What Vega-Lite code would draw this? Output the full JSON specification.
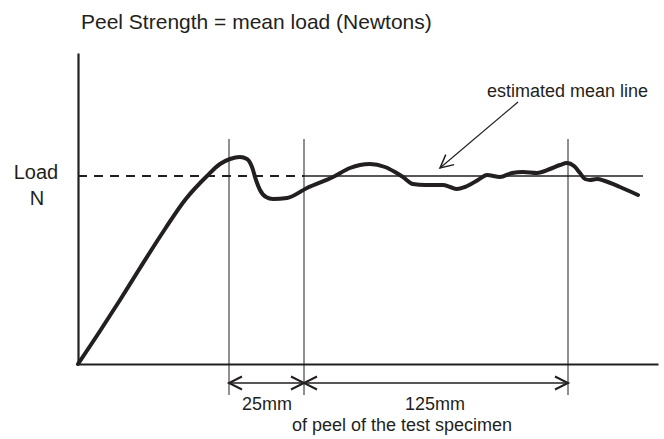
{
  "$schema": "https://vega.github.io/schema/vega-lite/v6.json",
  "width": 580,
  "height": 311,
  "autosize": "none",
  "padding": {"left": 78, "top": 53, "right": 6, "bottom": 75},
  "background": "white",
  "config": {
    "view": {"stroke": null},
    "text": {"font": "Liberation Sans", "color": "#231f20"}
  },
  "encoding": {
    "x": {
      "field": "x", "type": "quantitative",
      "scale": {"domain": [0, 290], "nice": false, "zero": false},
      "axis": {"domain": true, "domainColor": "#231f20", "domainWidth": 2.2, "ticks": false, "labels": false, "grid": false, "title": null}
    },
    "y": {
      "field": "y", "type": "quantitative",
      "scale": {"domain": [0, 155.5], "nice": false, "zero": false},
      "axis": {"domain": true, "domainColor": "#231f20", "domainWidth": 2.2, "ticks": false, "labels": false, "grid": false, "title": null}
    }
  },
  "layer": [
    {
      "data": {"values": [
        {"x": 75.5, "y": 112.5, "y2": -15.5},
        {"x": 113, "y": 112.5, "y2": -15.5},
        {"x": 245, "y": 112.5, "y2": -15.5}
      ]},
      "mark": {"type": "rule", "color": "#231f20", "strokeWidth": 1},
      "encoding": {"y2": {"field": "y2"}}
    },
    {
      "data": {"values": [{"x": 0, "x2": 113, "y": 94}]},
      "mark": {"type": "rule", "color": "#231f20", "strokeWidth": 1.8, "strokeDash": [9, 7]},
      "encoding": {"x2": {"field": "x2"}}
    },
    {
      "data": {"values": [{"x": 113, "x2": 282.5, "y": 94}]},
      "mark": {"type": "rule", "color": "#231f20", "strokeWidth": 1.6},
      "encoding": {"x2": {"field": "x2"}}
    },
    {
      "data": {"values": [
        {"x": 75.5, "x2": 113, "y": -9.5},
        {"x": 113, "x2": 245, "y": -9.5}
      ]},
      "mark": {"type": "rule", "color": "#231f20", "strokeWidth": 1.5},
      "encoding": {"x2": {"field": "x2"}}
    },
    {
      "data": {"values": [{"x": 220, "y": 131, "x2": 181, "y2": 98}]},
      "mark": {"type": "rule", "color": "#231f20", "strokeWidth": 1.2},
      "encoding": {"x2": {"field": "x2"}, "y2": {"field": "y2"}}
    },
    {
      "data": {"values": [{"x": 75.5, "y": -9.5}, {"x": 113, "y": -9.5}]},
      "mark": {"type": "point", "shape": "M2,-1L0,0L2,1", "size": 169, "filled": false, "stroke": "#231f20", "strokeWidth": 2, "opacity": 1}
    },
    {
      "data": {"values": [{"x": 113, "y": -9.5}, {"x": 245, "y": -9.5}]},
      "mark": {"type": "point", "shape": "M-2,-1L0,0L-2,1", "size": 169, "filled": false, "stroke": "#231f20", "strokeWidth": 2, "opacity": 1}
    },
    {
      "data": {"values": [{"x": 181, "y": 98}]},
      "mark": {"type": "point", "shape": "M2,-1L0,0L2,1", "size": 169, "angle": 320, "filled": false, "stroke": "#231f20", "strokeWidth": 1.5, "opacity": 1}
    },
    {
      "data": {"values": [
        {"x": 0, "y": 0}, {"x": 11, "y": 16.5}, {"x": 21, "y": 32}, {"x": 31, "y": 48},
        {"x": 43.5, "y": 67.5}, {"x": 53.5, "y": 82}, {"x": 64.5, "y": 94}, {"x": 71, "y": 100},
        {"x": 76, "y": 102.5}, {"x": 81, "y": 103.5}, {"x": 84.5, "y": 102.5}, {"x": 87, "y": 98.5},
        {"x": 89, "y": 92}, {"x": 91, "y": 87}, {"x": 94, "y": 83.5}, {"x": 97.5, "y": 82.5},
        {"x": 104.5, "y": 83}, {"x": 114.5, "y": 88}, {"x": 127.5, "y": 93.5}, {"x": 136, "y": 98},
        {"x": 141, "y": 99.5}, {"x": 146, "y": 100}, {"x": 153.5, "y": 98.5}, {"x": 158.5, "y": 96},
        {"x": 162.5, "y": 93.5}, {"x": 167.5, "y": 90}, {"x": 173.5, "y": 89.5}, {"x": 182.5, "y": 89.5},
        {"x": 186, "y": 88.5}, {"x": 189.5, "y": 87.5}, {"x": 193.5, "y": 88.5}, {"x": 200, "y": 92},
        {"x": 204.5, "y": 94.5}, {"x": 211, "y": 93.5}, {"x": 217, "y": 95.5}, {"x": 222.5, "y": 96},
        {"x": 229.5, "y": 95.5}, {"x": 236, "y": 97.5}, {"x": 241, "y": 99.5}, {"x": 244.5, "y": 100.5},
        {"x": 248, "y": 99}, {"x": 251, "y": 95.5}, {"x": 253.5, "y": 92.5}, {"x": 256, "y": 92},
        {"x": 259.5, "y": 92.5}, {"x": 263.5, "y": 91.5}, {"x": 271, "y": 88.5}, {"x": 280, "y": 84.5}
      ]},
      "mark": {"type": "line", "interpolate": "monotone", "color": "#231f20", "strokeWidth": 4, "strokeCap": "round", "strokeJoin": "round"}
    },
    {
      "data": {"values": [{"x": 1.5, "y": 167.5, "label": "Peel Strength = mean load (Newtons)"}]},
      "mark": {"type": "text", "align": "left", "baseline": "alphabetic", "fontSize": 21},
      "encoding": {"text": {"field": "label"}}
    },
    {
      "data": {"values": [{"x": 204.5, "y": 133.5, "label": "estimated mean line"}]},
      "mark": {"type": "text", "align": "left", "baseline": "alphabetic", "fontSize": 18},
      "encoding": {"text": {"field": "label"}}
    },
    {
      "data": {"values": [
        {"x": -21, "y": 92.3, "label": "Load"},
        {"x": -20.5, "y": 79.5, "label": "N"}
      ]},
      "mark": {"type": "text", "align": "center", "baseline": "alphabetic", "fontSize": 20},
      "encoding": {"text": {"field": "label"}}
    },
    {
      "data": {"values": [
        {"x": 94.5, "y": -23, "label": "25mm"},
        {"x": 178.5, "y": -23, "label": "125mm"},
        {"x": 162, "y": -33.5, "label": "of peel of the test specimen"}
      ]},
      "mark": {"type": "text", "align": "center", "baseline": "alphabetic", "fontSize": 18},
      "encoding": {"text": {"field": "label"}}
    }
  ]
}
